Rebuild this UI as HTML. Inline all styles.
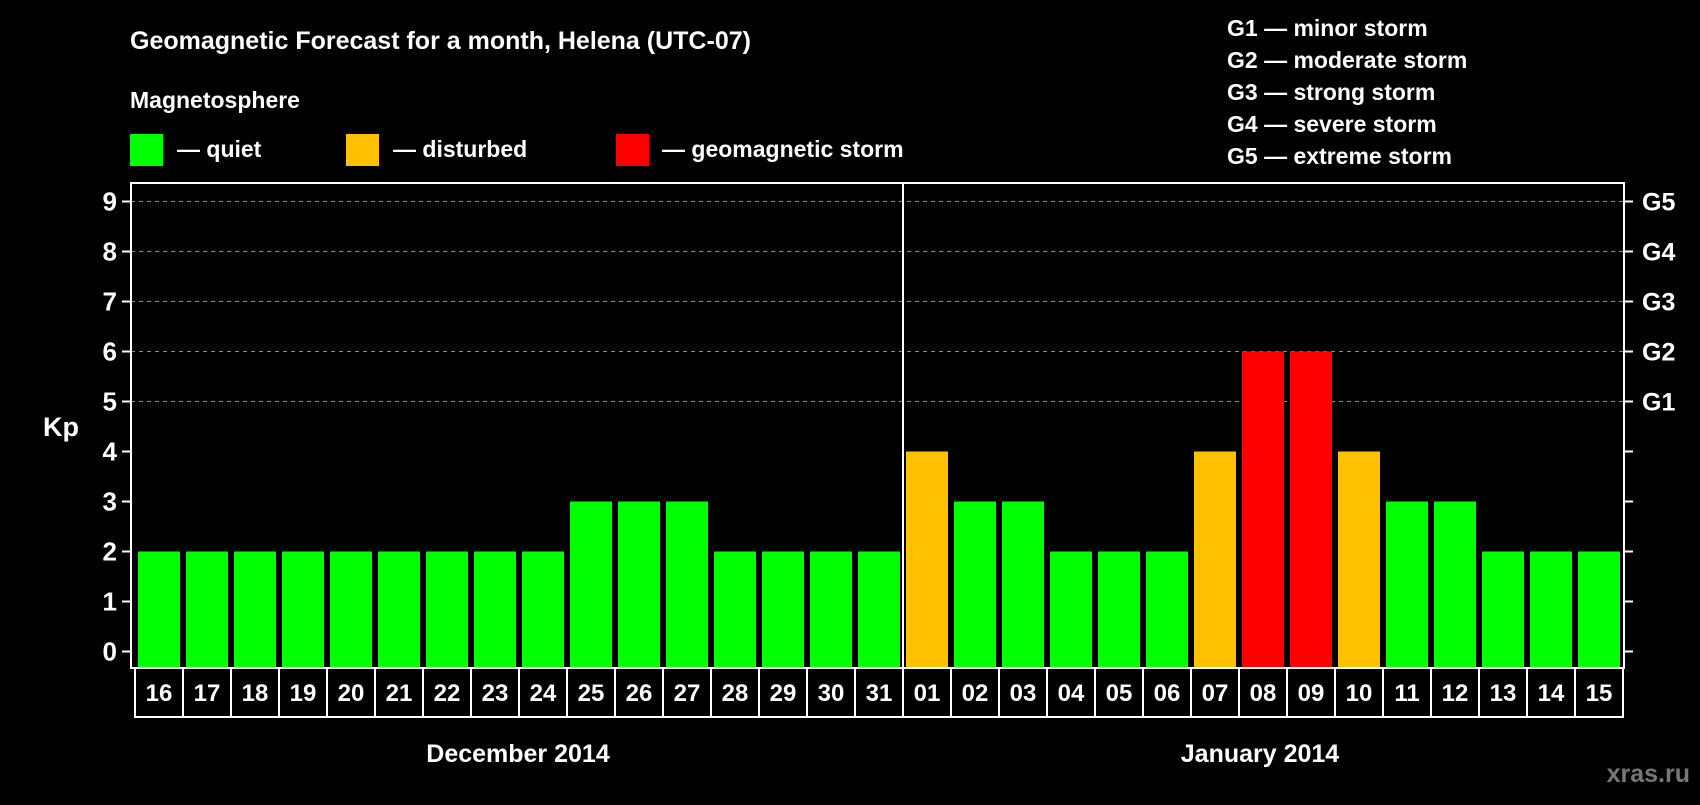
<!DOCTYPE html>
<html><head><meta charset="utf-8"><style>
body{margin:0;background:#000;width:1700px;height:800px;overflow:hidden;font-family:"Liberation Sans",sans-serif;font-weight:bold;color:#fff}
svg text{font-family:"Liberation Sans",sans-serif;font-weight:bold}
</style></head><body>
<svg id="c" width="1700" height="800" xmlns="http://www.w3.org/2000/svg">
<text x="130" y="49" fill="#fff" font-size="25">Geomagnetic Forecast for a month, Helena (UTC-07)</text>
<text x="130" y="108" fill="#fff" font-size="23">Magnetosphere</text>
<g><rect x="130" y="134" width="33" height="32" fill="#00ff00"/><text x="177" y="157" fill="#fff" font-size="23">— quiet</text></g>
<g><rect x="346" y="134" width="33" height="32" fill="#ffc000"/><text x="393" y="157" fill="#fff" font-size="23">— disturbed</text></g>
<g><rect x="616" y="134" width="33" height="32" fill="#ff0000"/><text x="662" y="157" fill="#fff" font-size="23">— geomagnetic storm</text></g>
<g font-size="23" fill="#fff">
<text x="1227" y="36">G1 — minor storm</text>
<text x="1227" y="68">G2 — moderate storm</text>
<text x="1227" y="100">G3 — strong storm</text>
<text x="1227" y="132">G4 — severe storm</text>
<text x="1227" y="164">G5 — extreme storm</text>
</g>
<text x="43" y="436" fill="#fff" font-size="27">Kp</text>
<text x="518" y="762" fill="#fff" font-size="25" text-anchor="middle">December 2014</text>
<text x="1260" y="762" fill="#fff" font-size="25" text-anchor="middle">January 2014</text>
<text x="1690" y="782" fill="#777" font-size="25" text-anchor="end">xras.ru</text>
<g id="plot"></g>
</svg>
<script>
const days=["16","17","18","19","20","21","22","23","24","25","26","27","28","29","30","31","01","02","03","04","05","06","07","08","09","10","11","12","13","14","15"];
const kp=[2,2,2,2,2,2,2,2,2,3,3,3,2,2,2,2,4,3,3,2,2,2,4,6,6,4,3,3,2,2,2];
const yTicks=[0,1,2,3,4,5,6,7,8,9];
const gLabels=["G1","G2","G3","G4","G5"];
const gLevels=[5,6,7,8,9];
const NS="http://www.w3.org/2000/svg";
const g=document.getElementById('plot');
const L=131,R=1624,T=183,B=668,x0=135,step=48;
const y=v=>651.5-v*50;
const x=i=>x0+i*step;
function mk(t,a){const e=document.createElementNS(NS,t);for(const k in a)e.setAttribute(k,a[k]);g.appendChild(e);return e;}
const color=v=>v>=5?"#ff0000":(v>=4?"#ffc000":"#00ff00");
gLevels.forEach(v=>{const l=mk('line',{x1:L,x2:R,y1:y(v),y2:y(v),stroke:'#888','stroke-width':1,'stroke-dasharray':'4,4'});

});
kp.forEach((v,i)=>{const r=mk('rect',{x:x(i)+3,y:y(v),width:42,height:B-y(v),fill:color(v)});

});
const frame=mk('rect',{x:L,y:T,width:R-L,height:B-T,fill:'none',stroke:'#fff','stroke-width':2});


const dv=mk('line',{x1:x(16),x2:x(16),y1:T,y2:B,stroke:'#fff','stroke-width':2});


yTicks.forEach(v=>{
const a=mk('line',{x1:L-9,x2:L,y1:y(v),y2:y(v),stroke:'#fff','stroke-width':2});


const b=mk('line',{x1:R,x2:R+9,y1:y(v),y2:y(v),stroke:'#fff','stroke-width':2});


const t=mk('text',{x:117,y:y(v)+9,fill:'#fff','font-size':26,'text-anchor':'end'});t.textContent=v;

});
gLevels.forEach((v,i)=>{const t=mk('text',{x:1642,y:y(v)+9,fill:'#fff','font-size':25});t.textContent=gLabels[i];

});
days.forEach((d,i)=>{
const r=mk('rect',{x:x(i),y:B,width:step,height:49,fill:'none',stroke:'#fff','stroke-width':2});


const t=mk('text',{x:x(i)+step/2,y:701,fill:'#fff','font-size':24,'text-anchor':'middle'});t.textContent=d;

});
</script>
</body></html>
